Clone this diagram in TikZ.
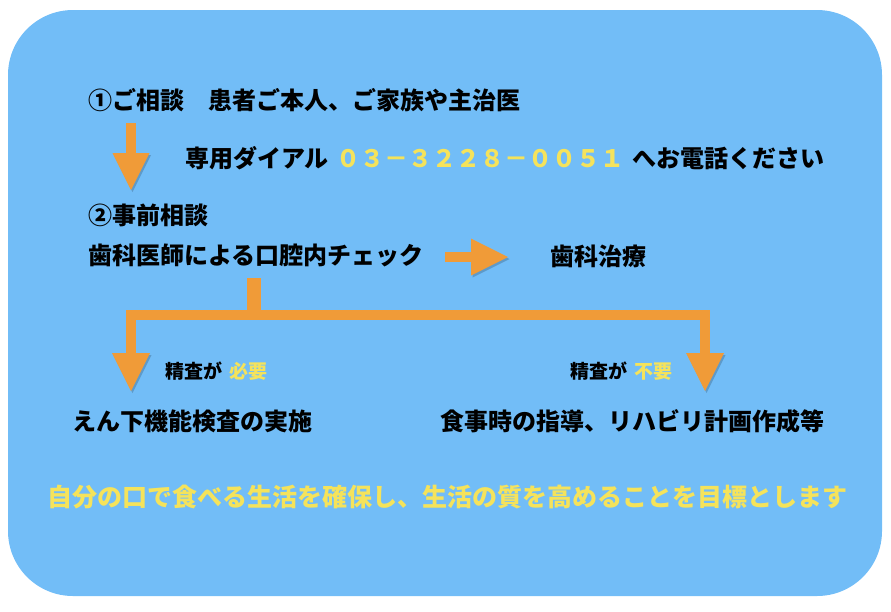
\documentclass[tikz,border=0pt]{standalone}
\usepackage{fontspec}
\setmainfont{Noto Sans CJK JP}
\usetikzlibrary{arrows.meta}
\definecolor{panel-blue}{HTML}{72BDF7}
\definecolor{flow-orange}{HTML}{F09B38}
\definecolor{note-yellow}{HTML}{F5E35B}
\tikzstyle{step-node}=[anchor=west,inner sep=0pt,font=\bfseries\fontsize{24}{28}\selectfont]
\tikzstyle{note-node}=[anchor=west,inner sep=0pt,font=\bfseries\fontsize{19}{23}\selectfont]
\tikzstyle{goal-node}=[anchor=west,inner sep=0pt,text=note-yellow,font=\bfseries\fontsize{25}{30}\selectfont]
\tikzstyle{orange-line}=[draw=flow-orange,line width=10pt,line join=miter,preaction={draw=black,opacity=0.18,transform canvas={shift={(1.5pt,-2pt)}}}]
\tikzstyle{orange-tip}=[-{Triangle[length=37pt,width=37pt,line width=0pt]}]

\begin{document}
\begin{tikzpicture}[x=1pt,y=-1pt]
	\useasboundingbox (0,0) rectangle (891,611);
	\fill[panel-blue,rounded corners=65pt] (8,10) rectangle (882,596);

	\begin{scope}
	\node (consult)[step-node] at (88,100) {①ご相談　患者ご本人、ご家族や主治医};
	\node (dial)[step-node] at (185,158) {専用ダイアル\hspace{8pt}{\color{note-yellow}０３－３２２８－００５１}\hspace{8pt}へお電話ください};
	\node (pre)[step-node] at (88,215) {②事前相談};
	\node (check)[step-node] at (88,255) {歯科医師による口腔内チェック};
	\node (treat)[step-node] at (550,256) {歯科治療};
	\node (need)[note-node] at (165,371) {精査が\hspace{7pt}{\color{note-yellow}必要}};
	\node (noneed)[note-node] at (570,371) {精査が\hspace{7pt}{\color{note-yellow}不要}};
	\node (swallow)[step-node] at (72,421) {えん下機能検査の実施};
	\node (guide)[step-node] at (440,421) {食事時の指導、リハビリ計画作成等};
	\node (goal)[goal-node] at (47,497) {自分の口で食べる生活を確保し、生活の質を高めることを目標とします};
	\end{scope}

	\begin{scope}
	\coordinate (down-top) at (131,123);
	\coordinate (down-tip) at (131,190);
	\coordinate (right-start) at (445,257);
	\coordinate (right-tip) at (508,257);
	\coordinate (stem-top) at (254,278);
	\coordinate (stem-foot) at (254,315);
	\coordinate (left-corner) at (131,315);
	\coordinate (right-corner) at (705,315);
	\coordinate (left-tip) at (131,391);
	\coordinate (right-end) at (705,391);
	\end{scope}

	\begin{scope}
	\draw[orange-line,orange-tip] (down-top) -- (down-tip);
	\draw[orange-line,orange-tip] (right-start) -- (right-tip);
	\draw[orange-line,line width=14pt] (stem-top) -- (stem-foot);
	\draw[orange-line,{Triangle[length=38pt,width=38pt,line width=0pt]}-{Triangle[length=38pt,width=38pt,line width=0pt]}]
		(left-tip) -- (left-corner) -- (right-corner) -- (right-end);
	\end{scope}
\end{tikzpicture}
\end{document}
